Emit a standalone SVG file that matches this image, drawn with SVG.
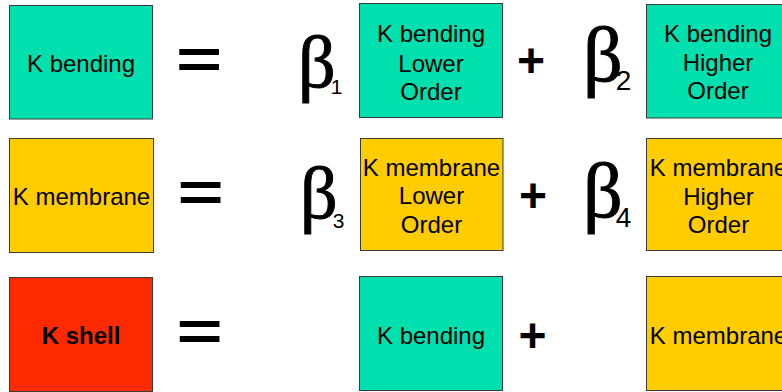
<svg xmlns="http://www.w3.org/2000/svg" width="782" height="392" viewBox="0 0 782 392">
<style>
.box{stroke:#3a3a3a;stroke-width:1}
.teal{fill:#00E0AE}
.yel{fill:#FFCC00}
.red{fill:#FF2A00}
.t{font-family:"Liberation Sans",Arial,sans-serif;font-size:24px;fill:#000;text-anchor:middle}
.b{font-weight:bold}
.op{font-family:"Liberation Sans",Arial,sans-serif;font-weight:bold;fill:#000;text-anchor:middle}
.beta{font-family:"Liberation Serif","Times New Roman",serif;fill:#000;stroke:#000;stroke-width:1}
.sub{font-family:"Liberation Sans",Arial,sans-serif;fill:#000;stroke:none}
</style>
<rect width="782" height="392" fill="#fff"/>
<g id="kbending">
<rect class="box teal" x="9.5" y="5.5" width="143" height="113.5"/>
<text class="t" x="81" y="72">K bending</text>
</g>
<g id="kbending-lower">
<rect class="box teal" x="359.5" y="3.5" width="143" height="114"/>
<text class="t" x="431" y="42">K bending</text>
<text class="t" x="431" y="71.5">Lower</text>
<text class="t" x="431" y="100">Order</text>
</g>
<g id="kbending-higher">
<rect class="box teal" x="646.5" y="4.5" width="143" height="113.5"/>
<text class="t" x="718" y="42">K bending</text>
<text class="t" x="718" y="70.5">Higher</text>
<text class="t" x="718" y="99">Order</text>
</g>
<g id="kmembrane">
<rect class="box yel" x="9.5" y="138.5" width="144" height="114"/>
<text class="t" x="81.5" y="205">K membrane</text>
</g>
<g id="kmembrane-lower">
<rect class="box yel" x="360.5" y="138.5" width="142.5" height="112"/>
<text class="t" x="431.5" y="175.5">K membrane</text>
<text class="t" x="431.5" y="204">Lower</text>
<text class="t" x="431.5" y="232.5">Order</text>
</g>
<g id="kmembrane-higher">
<rect class="box yel" x="646.5" y="138.5" width="143" height="112"/>
<text class="t" x="718.5" y="175.5">K membrane</text>
<text class="t" x="718.5" y="204.5">Higher</text>
<text class="t" x="718.5" y="233">Order</text>
</g>
<g id="kshell">
<rect class="box red" x="9.5" y="277.5" width="143" height="114"/>
<text class="t b" x="81" y="343.5">K shell</text>
</g>
<g id="kshell-bending">
<rect class="box teal" x="359.5" y="276.5" width="143" height="114"/>
<text class="t" x="431" y="343.5">K bending</text>
</g>
<g id="kshell-membrane">
<rect class="box yel" x="646.5" y="276.5" width="143" height="114"/>
<text class="t" x="718.5" y="344">K membrane</text>
</g>
<g id="operators">
<text class="op" transform="translate(199,78) scale(1.44,1)" font-size="55">=</text>
<text class="op" transform="translate(200.5,210.5) scale(1.44,1)" font-size="55">=</text>
<text class="op" transform="translate(199.5,349.5) scale(1.44,1)" font-size="55">=</text>
<text class="op" x="531" y="77" font-size="48">+</text>
<text class="op" x="533" y="212" font-size="48">+</text>
<text class="op" x="532.5" y="352" font-size="48">+</text>
</g>
<g id="coefficients">
<text class="beta" x="298" y="87" font-size="74">β<tspan class="sub" font-size="21" dx="-5" dy="7">1</tspan></text>
<text class="beta" x="583" y="81" font-size="78">β<tspan class="sub" font-size="28" dx="-7" dy="9">2</tspan></text>
<text class="beta" x="300" y="218" font-size="74">β<tspan class="sub" font-size="21" dx="-5" dy="10">3</tspan></text>
<text class="beta" x="583" y="216.5" font-size="78">β<tspan class="sub" font-size="28" dx="-7" dy="10">4</tspan></text>
</g>
<g id="connectors"></g>
</svg>
